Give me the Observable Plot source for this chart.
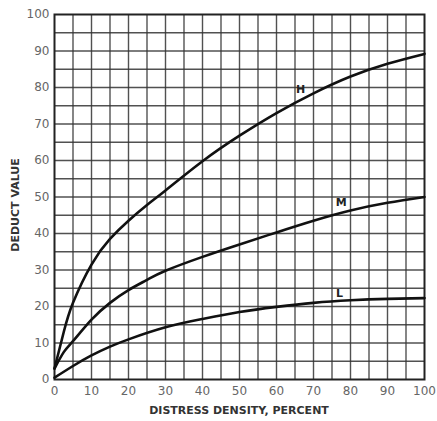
<!DOCTYPE html>
<html>
<head>
<meta charset="utf-8">
<script src="https://cdn.jsdelivr.net/npm/d3@7"></script>
<script src="https://cdn.jsdelivr.net/npm/@observablehq/plot@0.6"></script>
<style>
  html, body { margin: 0; padding: 0; background: #fff; }
  #chart { width: 437px; height: 421px; }
</style>
</head>
<body>
<div id="chart"></div>
<script>
// Distress density (percent) sample points
const densityH = [0, 2.5, 5, 10, 15, 20, 25, 30, 40, 50, 60, 70, 80, 90, 100];
const deductH  = [3, 13, 21, 31.5, 38.5, 43.5, 47.8, 51.8, 59.8, 66.8, 73, 78.4, 83, 86.5, 89.2];

const densityM = [0, 2.5, 5, 10, 15, 20, 25, 30, 40, 50, 60, 70, 80, 90, 100];
const deductM  = [3, 7.5, 10.5, 16.4, 21, 24.5, 27.3, 29.8, 33.6, 37, 40.3, 43.5, 46.3, 48.4, 50];

const densityL = [0, 5, 10, 15, 20, 30, 40, 50, 60, 70, 80, 90, 100];
const deductL  = [0.5, 3.7, 6.6, 9.0, 11.0, 14.3, 16.6, 18.5, 19.9, 21, 21.7, 22.1, 22.3];

const tickLabels = [0, 10, 20, 30, 40, 50, 60, 70, 80, 90, 100];
const gridLines = [5, 10, 15, 20, 25, 30, 35, 40, 45, 50, 55, 60, 65, 70, 75, 80, 85, 90, 95];

const curveNames = ["H", "M", "L"];
const labelX = [66.5, 77.5, 77];
const labelY = [79.5, 48.5, 23.5];

const series = [
  {name: "H", xs: densityH, ys: deductH},
  {name: "M", xs: densityM, ys: deductM},
  {name: "L", xs: densityL, ys: deductL}
];
const lineData = series.flatMap(s => s.xs.map((x, i) => ({name: s.name, x, y: s.ys[i]})));
const labelData = curveNames.map((n, i) => ({name: n, x: labelX[i], y: labelY[i]}));

const chart = Plot.plot({
  width: 437,
  height: 421,
  marginLeft: 54,
  marginRight: 13,
  marginTop: 14,
  marginBottom: 42,
  style: {fontFamily: "DejaVu Sans", background: "#fff"},
  x: {domain: [0, 100], ticks: tickLabels, tickSize: 0, tickPadding: 7, label: null},
  y: {domain: [0, 100], ticks: tickLabels, tickSize: 0, tickPadding: 5, label: null},
  marks: [
    Plot.ruleX(gridLines, {stroke: "#333", strokeWidth: 1.4, strokeOpacity: 0.85}),
    Plot.ruleY(gridLines, {stroke: "#333", strokeWidth: 1.4, strokeOpacity: 0.85}),
    Plot.frame({stroke: "#222", strokeWidth: 2}),
    Plot.axisX({ticks: tickLabels, tickSize: 0, tickPadding: 7, fontSize: 12, fill: "#666", label: null}),
    Plot.axisY({ticks: tickLabels, tickSize: 0, tickPadding: 5, fontSize: 12, fill: "#666", label: null}),
    Plot.line(lineData, {x: "x", y: "y", z: "name", stroke: "#111", strokeWidth: 2.6, curve: "natural"}),
    Plot.text(labelData, {x: "x", y: "y", text: "name", fontSize: 11, fontWeight: "bold", fill: "#222"})
  ]
});

const svg = d3.select(chart);
svg.append("text")
  .attr("x", 239).attr("y", 414)
  .attr("text-anchor", "middle")
  .attr("font-family", "DejaVu Sans")
  .attr("font-weight", "bold")
  .attr("font-size", 11)
  .attr("fill", "#333")
  .text("DISTRESS DENSITY, PERCENT");
svg.append("text")
  .attr("transform", "translate(19,205) rotate(-90)")
  .attr("text-anchor", "middle")
  .attr("font-family", "DejaVu Sans")
  .attr("font-weight", "bold")
  .attr("font-size", 11)
  .attr("fill", "#333")
  .text("DEDUCT VALUE");

document.getElementById("chart").appendChild(chart);
</script>
</body>
</html>
